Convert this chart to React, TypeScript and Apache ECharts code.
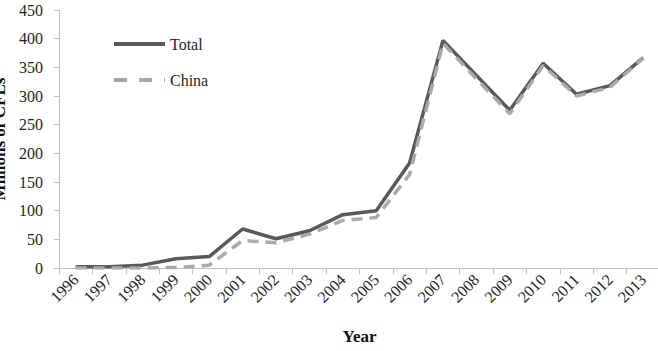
import React, { useEffect, useRef } from "react";
import * as echarts from "echarts";

// Annual CFL sales, millions of units
const years = [
  "1996", "1997", "1998", "1999", "2000", "2001", "2002", "2003", "2004",
  "2005", "2006", "2007", "2008", "2009", "2010", "2011", "2012", "2013",
];
const totalSales = [2, 2, 5, 16, 20, 68, 51, 65, 93, 100, 183, 397, 336, 275, 357, 303, 318, 367];
const chinaSales = [0, 0, 0, 1, 5, 48, 44, 59, 83, 88, 163, 392, 330, 269, 353, 300, 315, 366];

const FONT = "'Liberation Serif', 'Times New Roman', serif";
const TEXT_COLOR = "#1e1e28";
const TOTAL_COLOR = "#595959";
const CHINA_COLOR = "#aaaaaa";

export default function App() {
  const ref = useRef<HTMLDivElement>(null);

  useEffect(() => {
    if (!ref.current) return;
    const chart = echarts.init(ref.current, undefined, { renderer: "svg" });
    chart.setOption({
      animation: false,
      backgroundColor: "#ffffff",
      grid: {
        left: 59,
        right: -2,
        top: 10,
        bottom: 83,
        containLabel: false,
        outerBoundsMode: "none",
      },
      legend: {
        orient: "vertical",
        left: 107,
        top: 31,
        itemWidth: 51,
        itemHeight: 16,
        itemGap: 20,
        itemStyle: { opacity: 0 },
        textStyle: {
          fontFamily: FONT,
          fontSize: 16,
          lineHeight: 16,
          color: TEXT_COLOR,
        },
        data: [
          { name: "Total", lineStyle: { width: 4, color: TOTAL_COLOR } },
          { name: "China", lineStyle: { width: 4, color: CHINA_COLOR, type: [13, 12] } },
        ],
      },
      xAxis: {
        type: "category",
        data: years,
        boundaryGap: true,
        name: "Year",
        nameLocation: "middle",
        nameGap: 60,
        nameTextStyle: { fontFamily: FONT, fontSize: 17, fontWeight: "bold", color: "#111" },
        axisLine: { show: true, lineStyle: { color: "#bfbfbf", width: 1 } },
        axisTick: { show: true, alignWithLabel: false, length: 6, lineStyle: { color: "#bfbfbf" } },
        axisLabel: {
          interval: 0,
          rotate: 45,
          margin: 9,
          fontFamily: FONT,
          fontSize: 16,
          color: TEXT_COLOR,
        },
        splitLine: { show: false },
      },
      yAxis: {
        type: "value",
        min: 0,
        max: 450,
        interval: 50,
        name: "Millions of CFLs",
        nameLocation: "middle",
        nameGap: 50,
        nameTextStyle: { fontFamily: FONT, fontSize: 17, fontWeight: "bold", color: "#111" },
        axisLine: { show: true, lineStyle: { color: "#bfbfbf", width: 1 } },
        axisTick: { show: true, length: 5, lineStyle: { color: "#bfbfbf" } },
        axisLabel: { margin: 16, fontFamily: FONT, fontSize: 16, color: TEXT_COLOR },
        splitLine: { show: false },
      },
      series: [
        {
          name: "Total",
          type: "line",
          data: totalSales,
          symbol: "none",
          lineStyle: { width: 3.5, color: TOTAL_COLOR },
          itemStyle: { color: TOTAL_COLOR },
        },
        {
          name: "China",
          type: "line",
          data: chinaSales,
          symbol: "none",
          lineStyle: { width: 3.5, color: CHINA_COLOR, type: [11, 7] },
          itemStyle: { color: CHINA_COLOR },
        },
      ],
    });
    return () => chart.dispose();
  }, []);

  return (
    <div
      ref={ref}
      style={{ position: "fixed", left: 0, top: 0, width: 658, height: 351, background: "#fff" }}
    />
  );
}
